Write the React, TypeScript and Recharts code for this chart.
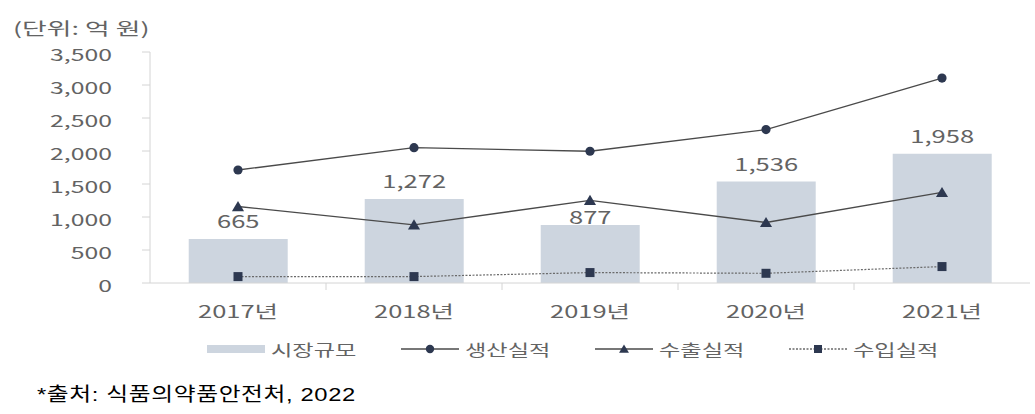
import React from 'react'
import {
    ComposedChart,
    Bar,
    Line,
    XAxis,
    YAxis,
    Legend,
    LabelList,
} from 'recharts'

const years = ['2017년', '2018년', '2019년', '2020년', '2021년']
const marketSize = [665, 1272, 877, 1536, 1958]
const production = [1712, 2051, 1996, 2324, 3105]
const exportsPerf = [1159, 881, 1252, 917, 1373]
const importsPerf = [97, 97, 158, 147, 249]
const yTicks = [0, 500, 1000, 1500, 2000, 2500, 3000, 3500]
const legendOrder = ['market', 'production', 'exports', 'imports']

const data = years.map((year, i) => ({
    year,
    market: marketSize[i],
    production: production[i],
    exports: exportsPerf[i],
    imports: importsPerf[i],
}))

const FONT = '"Noto Sans CJK KR", "Noto Sans", sans-serif'
const TEXT = '#636363'
const BAR = '#cdd5df'
const MARK = '#2d3850'
const LINE = '#4a4a4a'
const AXIS = '#d4d4d4'

// the reference text is drawn horizontally stretched
const StretchText = ({ x, y, scale, size, anchor, fill = TEXT, children }: any) => (
    <g transform={`translate(${x},${y}) scale(${scale},1)`}>
        <text
            x={0}
            y={0}
            textAnchor={anchor}
            dominantBaseline="central"
            fontSize={size}
            fill={fill}
            fontFamily={FONT}
        >
            {children}
        </text>
    </g>
)

const YTick = ({ x, y, payload }: any) => (
    <StretchText x={x} y={y + 2} scale={1.55} size={16} anchor="end">
        {Number(payload.value).toLocaleString('en-US')}
    </StretchText>
)

const XTick = ({ x, y, payload, index }: any) => {
    const half = payload.offset || 88
    return (
        <g>
            {index > 0 && (
                <line x1={x - half} x2={x - half} y1={y} y2={y + 7} stroke={AXIS} />
            )}
            <StretchText x={x} y={y + 28} scale={1.5} size={17} anchor="middle">
                {payload.value}
            </StretchText>
        </g>
    )
}

const BarLabel = ({ x, y, width, value, index }: any) => {
    // 877 sits closer to its bar in the original to clear the export line
    const lift = index === 2 ? 9 : 19
    return (
        <StretchText x={x + width / 2} y={y - lift} scale={1.42} size={18} anchor="middle">
            {Number(value).toLocaleString('en-US')}
        </StretchText>
    )
}

const Triangle = ({ cx, cy, size = 11 }: any) => (
    <path
        d={`M${cx},${cy - size * 0.5} L${cx + size * 0.55},${cy + size * 0.42} L${cx - size * 0.55},${cy + size * 0.42} Z`}
        fill={MARK}
    />
)

const circleDot = (p: any) => (
    <circle key={`c-${p.index}`} cx={p.cx} cy={p.cy} r={4.6} fill={MARK} />
)
const triangleDot = (p: any) => <Triangle key={`t-${p.index}`} cx={p.cx} cy={p.cy} />
const squareDot = (p: any) => (
    <rect key={`s-${p.index}`} x={p.cx - 4.5} y={p.cy - 4.5} width={9} height={9} fill={MARK} />
)

const LegendIcon = ({ kind, x, y }: any) => {
    if (kind === 'market') return <rect x={x} y={y - 4} width={58} height={8} fill={BAR} />
    const dashed = kind === 'imports'
    return (
        <g>
            <line
                x1={x}
                x2={x + 58}
                y1={y}
                y2={y}
                stroke={dashed ? '#6a6a6a' : LINE}
                strokeWidth={1.3}
                strokeDasharray={dashed ? '2 1.5' : undefined}
            />
            {kind === 'production' && <circle cx={x + 29} cy={y} r={4.2} fill={MARK} />}
            {kind === 'exports' && <Triangle cx={x + 29} cy={y} size={9} />}
            {kind === 'imports' && <rect x={x + 25} y={y - 4} width={8} height={8} fill={MARK} />}
        </g>
    )
}

const renderLegend = ({ payload }: any) => {
    const items = [...(payload || [])].sort(
        (a: any, b: any) => legendOrder.indexOf(a.dataKey) - legendOrder.indexOf(b.dataKey)
    )
    return (
        <svg width={1035} height={40} style={{ display: 'block' }}>
            {items.map((entry: any, i: number) => {
                const x0 = 207 + i * 194
                return (
                    <g key={entry.value}>
                        <LegendIcon kind={entry.dataKey} x={x0} y={18} />
                        <StretchText x={x0 + 64} y={18} scale={1.45} size={16} anchor="start">
                            {entry.value}
                        </StretchText>
                    </g>
                )
            })}
        </svg>
    )
}

const App = () => {
    return (
        <div
            style={{
                position: 'absolute',
                left: 0,
                top: 0,
                width: 1035,
                height: 414,
                background: '#fff',
                fontFamily: FONT,
            }}
        >
            <div
                style={{
                    position: 'absolute',
                    left: 13,
                    top: 16,
                    fontSize: 17,
                    color: TEXT,
                    transform: 'scaleX(1.58)',
                    transformOrigin: 'left',
                    whiteSpace: 'nowrap',
                    lineHeight: '24px',
                }}
            >
                (단위: 억 원)
            </div>
            <ComposedChart
                width={1035}
                height={371}
                data={data}
                margin={{ top: 52, right: 5, left: 0, bottom: 0 }}
                barCategoryGap="22%"
            >
                <XAxis
                    dataKey="year"
                    height={48}
                    stroke={AXIS}
                    tickLine={false}
                    tickSize={0}
                    tickMargin={0}
                    tick={<XTick />}
                    interval={0}
                />
                <YAxis
                    width={150}
                    domain={[0, 3500]}
                    ticks={yTicks}
                    stroke={AXIS}
                    tickSize={8}
                    tickMargin={30}
                    tick={<YTick />}
                    interval={0}
                />
                <Bar dataKey="market" name="시장규모" fill={BAR} isAnimationActive={false}>
                    <LabelList dataKey="market" content={<BarLabel />} />
                </Bar>
                <Line
                    dataKey="production"
                    name="생산실적"
                    stroke={LINE}
                    strokeWidth={1.3}
                    dot={circleDot}
                    activeDot={false}
                    isAnimationActive={false}
                />
                <Line
                    dataKey="exports"
                    name="수출실적"
                    stroke={LINE}
                    strokeWidth={1.3}
                    dot={triangleDot}
                    activeDot={false}
                    isAnimationActive={false}
                />
                <Line
                    dataKey="imports"
                    name="수입실적"
                    stroke="#6a6a6a"
                    strokeWidth={1.2}
                    strokeDasharray="2 1.5"
                    dot={squareDot}
                    activeDot={false}
                    isAnimationActive={false}
                />
                <Legend
                    verticalAlign="bottom"
                    content={renderLegend}
                    wrapperStyle={{ left: 0, width: 1035 }}
                />
            </ComposedChart>
            <div
                style={{
                    position: 'absolute',
                    left: 37,
                    top: 382,
                    fontSize: 19,
                    color: '#000',
                    fontFamily: '"Liberation Sans", "Noto Sans CJK KR", sans-serif',
                    transform: 'scaleX(1.25)',
                    transformOrigin: 'left',
                    letterSpacing: 0.5,
                    whiteSpace: 'nowrap',
                    lineHeight: '26px',
                }}
            >
                *출처: 식품의약품안전처, 2022
            </div>
        </div>
    )
}

export default App
